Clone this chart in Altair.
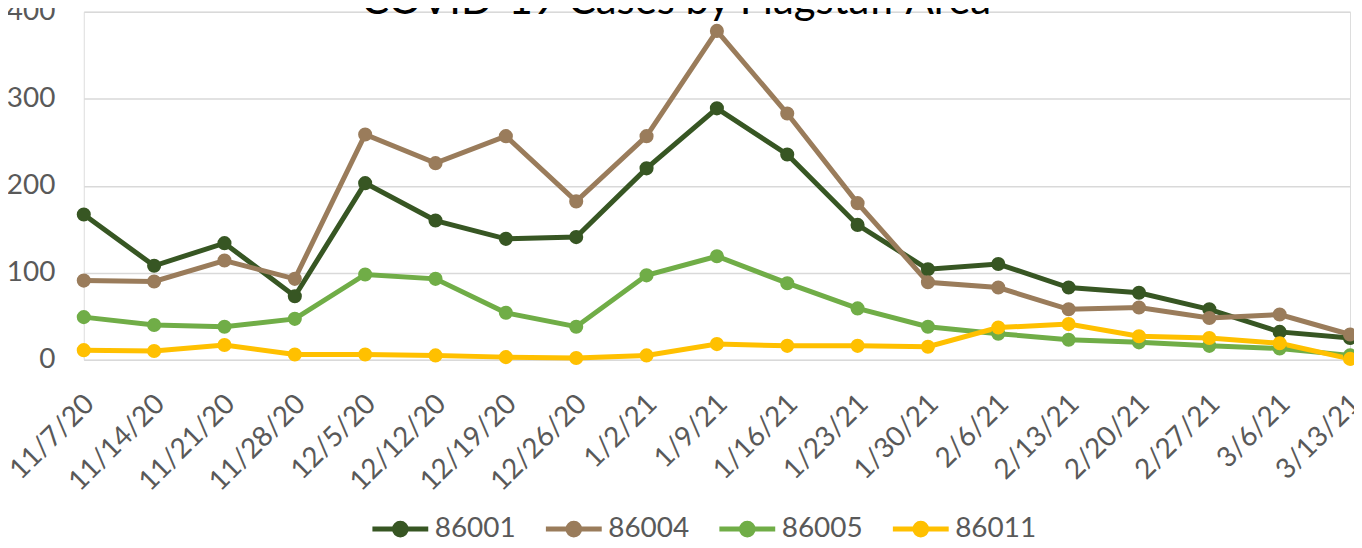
import altair as alt
import pandas as pd

chart_title = "COVID-19 Cases by Flagstaff Area"
dates = ["11/7/20", "11/14/20", "11/21/20", "11/28/20", "12/5/20", "12/12/20",
         "12/19/20", "12/26/20", "1/2/21", "1/9/21", "1/16/21", "1/23/21",
         "1/30/21", "2/6/21", "2/13/21", "2/20/21", "2/27/21", "3/6/21", "3/13/21"]
z86001 = [167, 108, 134, 73, 203, 160, 139, 141, 220, 289, 236, 155, 104, 110, 83, 77, 58, 32, 25]
z86004 = [91, 90, 114, 93, 259, 226, 257, 182, 257, 378, 283, 180, 89, 83, 58, 60, 48, 52, 29]
z86005 = [49, 40, 38, 47, 98, 93, 54, 38, 97, 119, 88, 59, 38, 30, 23, 20, 16, 13, 5]
z86011 = [11, 10, 17, 6, 6, 5, 3, 2, 5, 18, 16, 16, 15, 37, 41, 27, 25, 19, 1]
series_names = ["86001", "86004", "86005", "86011"]
series_colors = ["#375623", "#9A7C5B", "#70AD47", "#FFC000"]
y_ticks = [0, 100, 200, 300, 400]

rows = []
for name, vals in zip(series_names, [z86001, z86004, z86005, z86011]):
    for d, v in zip(dates, vals):
        rows.append({"Week": d, "Area": name, "Cases": v})
df = pd.DataFrame(rows)

FONT = "Lato"
LABEL_COLOR = "#595959"
FS = 28

color = alt.Color(
    "Area:N",
    scale=alt.Scale(domain=series_names, range=series_colors),
    legend=alt.Legend(
        title=None,
        orient="none",
        direction="horizontal",
        legendX=287,
        legendY=488,
        labelFont=FONT,
        labelFontSize=FS,
        labelColor=LABEL_COLOR,
        labelOffset=4,
        columnPadding=19,
        symbolType="M-1,0L1,0M0.21,0A0.21,0.21,0,1,1,-0.21,0A0.21,0.21,0,1,1,0.21,0Z",
        symbolSize=3136,
        symbolStrokeWidth=5,
        symbolOpacity=1,
    ),
)

x = alt.X(
    "Week:N",
    sort=dates,
    scale=alt.Scale(type="point", padding=0),
    axis=alt.Axis(
        title=None,
        labelAngle=-45,
        labelAlign="right",
        labelBaseline="top",
        labelFont=FONT,
        labelFontSize=FS,
        labelColor=LABEL_COLOR,
        labelPadding=30,
        labelOffset=-4,
        ticks=False,
        domain=False,
        grid=False,
        labelOverlap=False,
    ),
)

y = alt.Y(
    "Cases:Q",
    scale=alt.Scale(domain=[0, 400], nice=False),
    axis=alt.Axis(
        title=None,
        values=y_ticks,
        labelFont=FONT,
        labelFontSize=FS,
        labelColor=LABEL_COLOR,
        labelPadding=29,
        ticks=False,
        domain=False,
        gridColor="#D9D9D9",
        gridWidth=1.5,
    ),
)

base = alt.Chart(df).encode(x=x, y=y, color=color)
lines = base.mark_line(strokeWidth=5)
points = base.mark_circle(size=200, opacity=1)

title_text = (
    alt.Chart(pd.DataFrame({"t": [chart_title]}))
    .mark_text(font=FONT, fontSize=42, color="#000000", align="center", baseline="alphabetic")
    .encode(text="t:N", x=alt.value(594), y=alt.value(2))
)

chart = (
    alt.layer(lines, points, title_text)
    .properties(
        width=1270,
        height=349,
        padding={"left": 76, "top": 3, "right": 4, "bottom": 178},
        autosize=alt.AutoSizeParams(type="none"),
    )
    .configure_view(strokeWidth=0, stroke="transparent")
    .configure(background="white")
)

chart.save("out.html", embed_options={"renderer": "svg", "actions": False})
